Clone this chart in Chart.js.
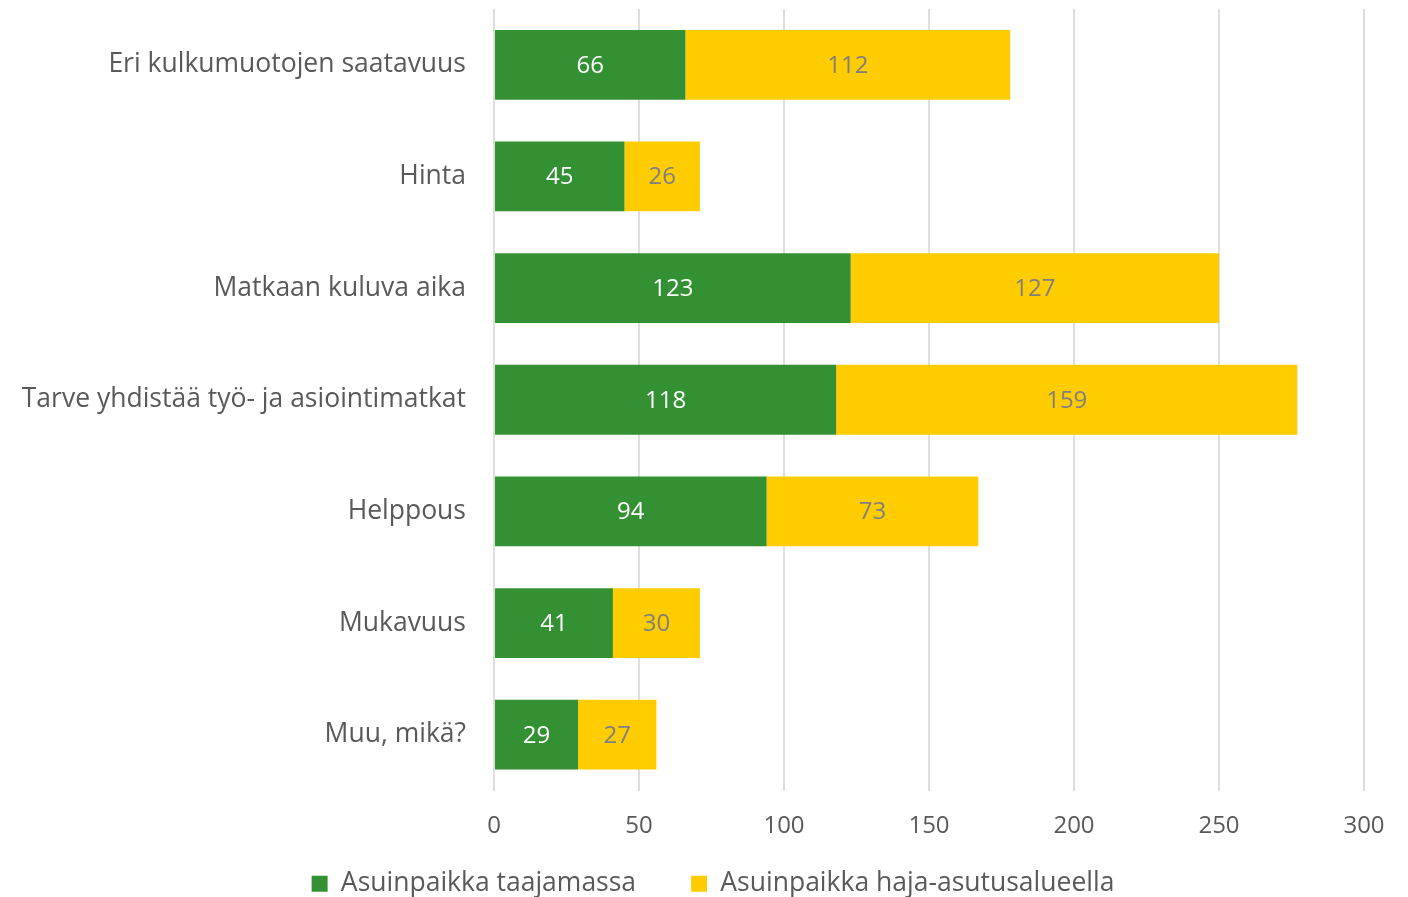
<!DOCTYPE html>
<html>
<head>
<meta charset="utf-8">
<script src="https://cdn.jsdelivr.net/npm/chart.js@4/dist/chart.umd.min.js"></script>
<style>
html,body{margin:0;padding:0;background:#fff;overflow:hidden;}
#wrap{position:relative;width:1408px;height:907px;}
</style>
</head>
<body>
<div id="wrap"><canvas id="c"></canvas></div>
<script>
const categories = ["Eri kulkumuotojen saatavuus","Hinta","Matkaan kuluva aika","Tarve yhdistää työ- ja asiointimatkat","Helppous","Mukavuus","Muu, mikä?"];
const seriesNames = ["Asuinpaikka taajamassa","Asuinpaikka haja-asutusalueella"];
const taajama = [66,45,123,118,94,41,29];
const haja = [112,26,127,159,73,30,27];
const xTicks = [0,50,100,150,200,250,300];

const FONT = "'Open Sans', sans-serif";
const labelPlugin = {
  id:'vals',
  beforeDraw(chart){
    // widen label clip areas so axis labels are not cut
    const x = chart.scales.x, y = chart.scales.y;
    x.bottom = x.top + 70;
    y.left = 0;
  },
  afterDatasetsDraw(chart){
    const ctx = chart.ctx;
    chart.data.datasets.forEach((ds,i)=>{
      const meta = chart.getDatasetMeta(i);
      meta.data.forEach((el,j)=>{
        const p = el.getProps(['x','y','base'],true);
        ctx.save();
        ctx.font = "24px " + FONT;
        ctx.fillStyle = ds.labelColor;
        ctx.textAlign='center';
        ctx.textBaseline='middle';
        ctx.fillText(String(ds.data[j]), (p.x+p.base)/2, p.y+1);
        ctx.restore();
      });
    });
  }
};

new Chart(document.getElementById('c'),{
  type:'bar',
  data:{
    labels:categories,
    datasets:[
      {label:seriesNames[0],data:taajama,backgroundColor:'#339133',labelColor:'#ffffff',barPercentage:0.625,categoryPercentage:1},
      {label:seriesNames[1],data:haja,backgroundColor:'#ffcc00',labelColor:'#7f7f7f',barPercentage:0.625,categoryPercentage:1}
    ]
  },
  options:{
    indexAxis:'y',
    responsive:true,
    maintainAspectRatio:false,
    animation:false,
    layout:{padding:{top:9,right:44,left:62,bottom:0}},
    scales:{
      x:{
        stacked:true,min:0,max:300,
        afterBuildTicks(s){ s.ticks = xTicks.map(v=>({value:v})); },
        afterFit(s){ s.height = 25; },
        grid:{color:'#dedede',lineWidth:2,drawTicks:false},
        border:{display:false},
        ticks:{color:'#595959',font:{family:FONT,size:24},padding:21}
      },
      y:{
        stacked:true,
        grid:{display:false,drawTicks:false},
        border:{display:false},
        afterFit(s){ s.width = 432; s.paddingTop = 0; s.paddingBottom = 0; },
        ticks:{color:'#595959',font:{family:FONT,size:26.5},padding:28}
      }
    },
    plugins:{
      legend:{
        position:'bottom',
        labels:{color:'#595959',font:{family:FONT,size:26.5},boxWidth:16,boxHeight:16,padding:55}
      },
      tooltip:{enabled:false}
    }
  },
  plugins:[labelPlugin]
});
</script>
</body>
</html>
